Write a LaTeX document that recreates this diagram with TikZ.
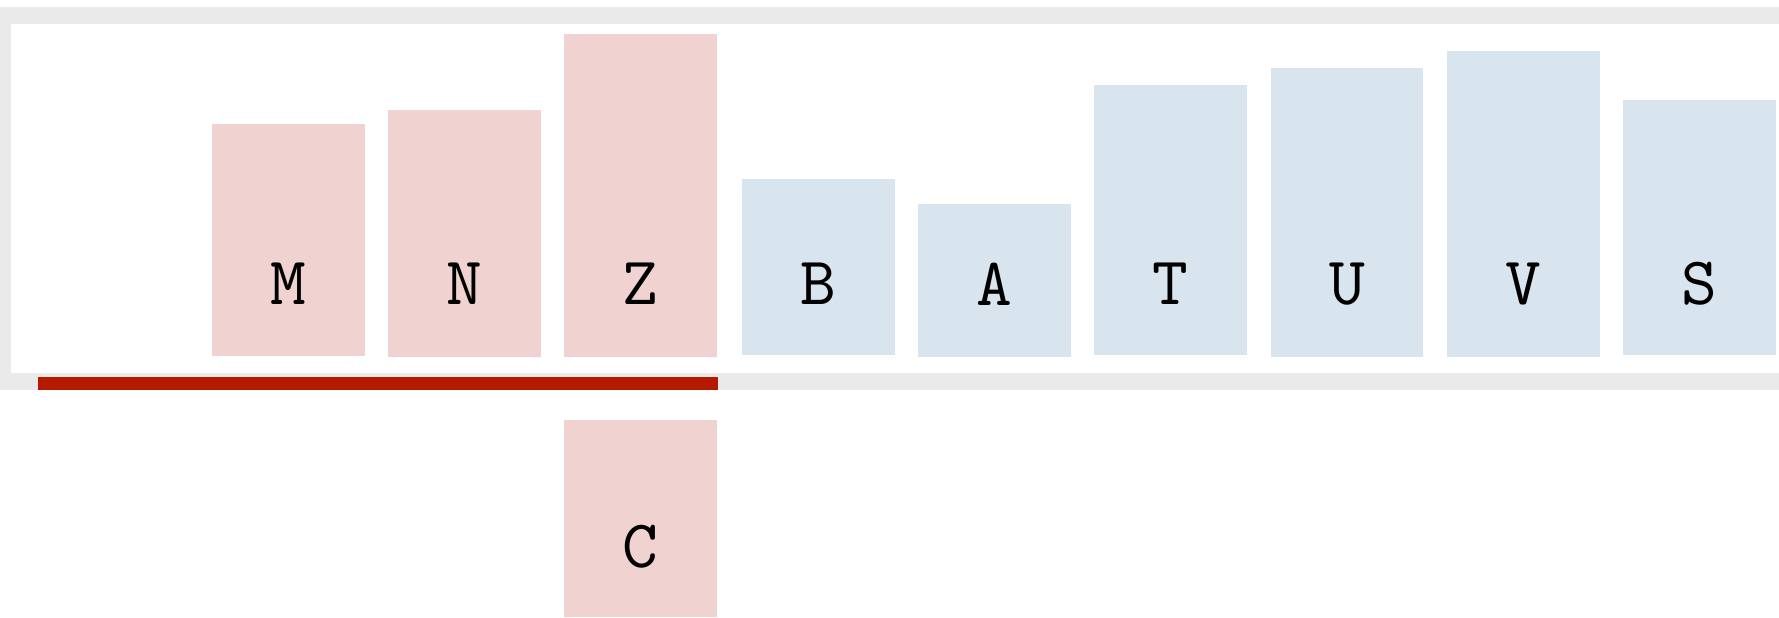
\documentclass[tikz,border=0pt]{standalone}
\usepackage{xcolor}
\usepackage{fontspec}
\usepackage{tikz}
\newfontfamily\barletters{lmmono10-regular}[Extension=.otf]
\definecolor{trackgray}{RGB}{234, 234, 234}
\definecolor{barpink}{RGB}{240, 211, 208}
\definecolor{barblue}{RGB}{216, 228, 238}
\definecolor{markred}{RGB}{181, 26, 0}
\tikzset{
    frame/.style = {fill=trackgray},
    pinkbar/.style = {fill=barpink},
    bluebar/.style = {fill=barblue},
    redmark/.style = {fill=markred},
    letter/.style = {inner sep=0pt, font=\barletters\fontsize{34}{36}\selectfont}
}

\begin{document}
\begin{tikzpicture}[x=0.5pt, y=-0.5pt]
\useasboundingbox (0,0) rectangle (1779,617);

% track frame
\fill[frame] (0,7) rectangle (1779,24);
\fill[frame] (0,7) rectangle (11,390);
\fill[frame] (0,373) rectangle (1779,390);
\fill[redmark] (38,377) rectangle (718,390);

% bars
\fill[pinkbar] (212,124) rectangle (365,356);
\fill[pinkbar] (388,110) rectangle (541,357);
\fill[pinkbar] (564,34) rectangle (717,357);
\fill[bluebar] (742,179) rectangle (895,355);
\fill[bluebar] (918,204) rectangle (1071,357);
\fill[bluebar] (1094,85) rectangle (1247,355);
\fill[bluebar] (1271,68) rectangle (1423,357);
\fill[bluebar] (1447,51) rectangle (1600,357);
\fill[bluebar] (1623,100) rectangle (1776,355);
\fill[pinkbar] (564,420) rectangle (717,617);

% letters
\node (m) [letter] at (288.5,284) {M};
\node (n) [letter] at (464.5,284) {N};
\node (z) [letter] at (640.5,284) {Z};
\node (b) [letter] at (818.5,284) {B};
\node (a) [letter] at (994.5,284) {A};
\node (t) [letter] at (1170.5,284) {T};
\node (u) [letter] at (1347,284) {U};
\node (v) [letter] at (1523.5,284) {V};
\node (s) [letter] at (1699.5,284) {S};
\node (c) [letter] at (640.5,547) {C};
\end{tikzpicture}
\end{document}
